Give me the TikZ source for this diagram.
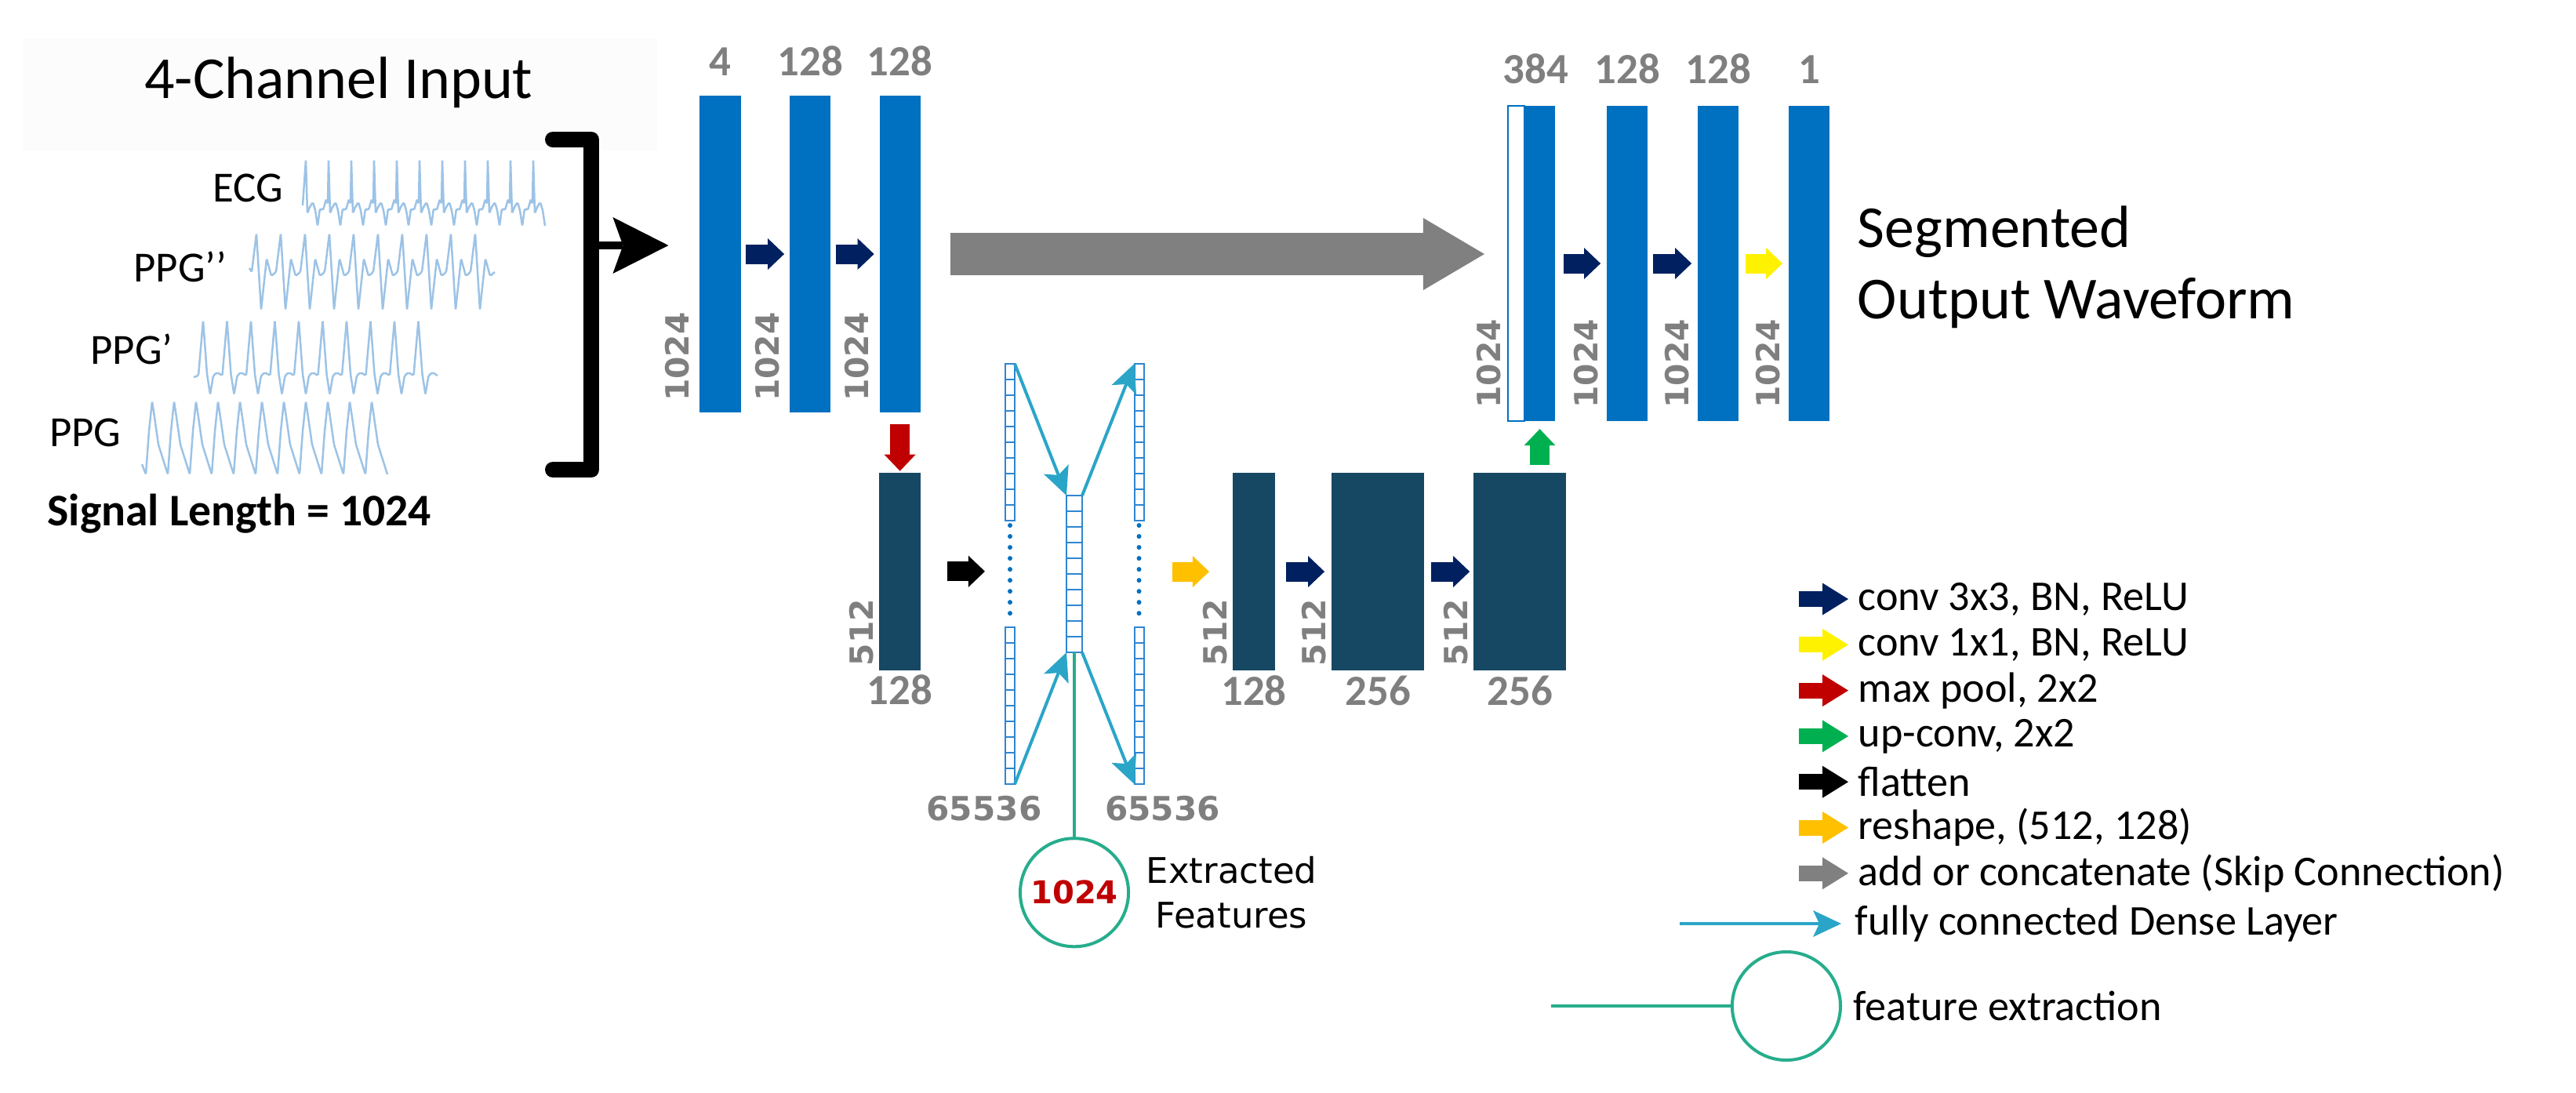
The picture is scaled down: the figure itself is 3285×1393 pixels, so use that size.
\documentclass[tikz,border=0pt]{standalone}
\usepackage{fontspec}
\setmainfont{Carlito}
\newfontfamily\vfont{DejaVu Sans}
\usepackage{tikz}
\usetikzlibrary{arrows.meta, positioning, calc}

\definecolor{encblue}{HTML}{0070C0}
\definecolor{botblue}{HTML}{164863}
\definecolor{convnavy}{HTML}{002060}
\definecolor{poolred}{HTML}{C00000}
\definecolor{upgreen}{HTML}{00B050}
\definecolor{reshorange}{HTML}{FFC000}
\definecolor{skipgray}{HTML}{808080}
\definecolor{lblgray}{HTML}{7F7F7F}
\definecolor{densecyan}{HTML}{2AA5C8}
\definecolor{featgreen}{HTML}{26AD8C}
\definecolor{sigblue}{HTML}{9DC3E6}
\definecolor{cellblue}{HTML}{2E86D1}

\begin{document}
\begin{tikzpicture}[x=0.01cm, y=-0.01cm,
		enc/.style={rectangle, fill=encblue, inner sep=0pt, outer sep=0pt,
				minimum width=0.52cm, minimum height=4.03cm},
		dec/.style={enc, minimum height=4.02cm},
		bot/.style={rectangle, fill=botblue, inner sep=0pt, outer sep=0pt,
				minimum width=0.53cm, minimum height=2.52cm},
		col/.style={rectangle, draw=cellblue, line width=0.02cm, fill=white,
				inner sep=0pt, outer sep=0pt, minimum width=0.12cm, minimum height=2cm,
				path picture={\foreach \k in {1,...,9}{
							\draw[cellblue, line width=0.015cm]
							($(path picture bounding box.north west)!\k/10!(path picture bounding box.south west)$) --
							($(path picture bounding box.north east)!\k/10!(path picture bounding box.south east)$);}}},
		featc/.style={circle, draw=featgreen, line width=0.04cm, fill=white,
				inner sep=0pt, outer sep=0pt, minimum size=1.38cm},
		toplbl/.style={anchor=base, inner sep=0pt, text=lblgray,
				font=\bfseries\fontsize{15.6}{18}\selectfont},
		sidelbl/.style={rotate=90, anchor=base west, inner sep=0pt, text=lblgray,
				font=\vfont\bfseries\fontsize{11.6}{13}\selectfont},
		siglbl/.style={anchor=base east, inner sep=0pt, font=\fontsize{15.6}{18}\selectfont},
		legtext/.style={anchor=west, inner sep=0pt, font=\fontsize{15.4}{18}\selectfont},
		sig/.style={draw=sigblue, line width=0.025cm, rounded corners=0.5pt},
		blk/.style={line width=0.25cm, -{Triangle[length=0.21cm, width=0.40cm, line width=0pt]}},
		legarrow/.style={line width=0.20cm, -{Triangle[length=0.33cm, width=0.41cm, line width=0pt]}},
		skip/.style={draw=skipgray, line width=0.53cm,
				-{Triangle[length=0.78cm, width=0.92cm, line width=0pt]}},
		inarrow/.style={line width=0.10cm,
				-{Stealth[length=0.71cm, width=0.72cm, inset=0.13cm, line width=0pt]}},
		dense/.style={draw=densecyan, line width=0.04cm,
				-{Stealth[length=0.36cm, width=0.34cm, inset=0.08cm, line width=0pt]}},
		featline/.style={draw=featgreen, line width=0.04cm},
		dots/.style={draw=encblue, line width=0.06cm, line cap=round,
				dash pattern=on 0pt off 0.14cm, shorten <=0.06cm, shorten >=0.06cm},
		bracket/.style={line width=0.20cm, line cap=round, line join=round}]

	\useasboundingbox (0,0) rectangle (3285,1393);

	% Input signals
	\fill[black!1.2] (29,49) rectangle (838,192);
	\node[anchor=base, inner sep=0pt, font=\fontsize{21.6}{26}\selectfont] (title) at (432,125) {4-Channel Input};
	\node[siglbl] (lecg) at (362,257) {ECG};
	\node[siglbl] (lppgb) at (290,359) {PPG’’};
	\node[siglbl] (lppga) at (221,464) {PPG’};
	\node[siglbl] (lppg) at (155,569) {PPG};
	\node[anchor=base west, inner sep=0pt, font=\bfseries\fontsize{16.4}{19}\selectfont] (siglen) at (60,670) {Signal Length = 1024};

	\draw[sig] (386,262) -- (390,204)
		\foreach \k in {1,...,10}{ -- ++(2,68) -- ++(3,-8) -- ++(4,-6) -- ++(3,10) -- ++(3,20)
				-- ++(3,-22) -- ++(4,2) -- ++(4,-14) -- ++(2,6) -- ++(1,-56) }
		-- ++(2,68) -- ++(3,-8) -- ++(4,-6) -- ++(3,10) -- ++(3,20);
	\draw[sig] (318,342) -- (321,347)
		\foreach \k in {1,...,10}{ -- ++(6,-49) -- ++(6,97) -- ++(7,-65) -- ++(6,22) -- ++(6,-5) };
	\draw[sig] (247,481) -- (253,479)
		\foreach \k in {1,...,10}{ -- ++(6,-70) -- ++(5,68) -- ++(4,26) -- ++(4,-24) -- ++(5,-4) -- ++(6.5,4) };
	\draw[sig] (181,592) -- (186,605)
		\foreach \k in {1,...,11}{ -- ++(4,-55) -- ++(4,-38) -- ++(3,20) -- ++(5,35) -- ++(12,38) };

	% Bracket and input arrow
	\coordinate (brk) at (754,313);
	\draw[bracket] (705,178) -- (754,178) -- (754,599) -- (705,599);

	% Encoder
	\node[enc] (e1) at (918.5,324) {};
	\node[enc, right=0.625cm of e1] (e2) {};
	\node[enc, right=0.625cm of e2] (e3) {};
	\node[bot, below=0.77cm of e3] (b1) {};

	% Dense bottleneck
	\node[col] (lt) at (1288,564) {};
	\node[col] (lb) at (1288,900) {};
	\node[col, minimum width=0.20cm] (mid) at (1370,732) {};
	\node[col] (rt) at (1452.5,564) {};
	\node[col] (rb) at (1452.5,900) {};
	\coordinate (lc) at ($(lt.south)!0.5!(lb.north)$);
	\coordinate (rc) at ($(rt.south)!0.5!(rb.north)$);
	\node[featc, below=2.37cm of mid, text=poolred, font=\vfont\bfseries\fontsize{11.4}{13}\selectfont] (fe) {1024};
	\node[right=0.22cm of fe, inner sep=0pt, align=center, font=\vfont\fontsize{12.8}{16.2}\selectfont] (fetext) {Extracted\\Features};

	% Bottom decoder blocks
	\node[bot, minimum width=0.54cm] (r1) at (1599,729) {};
	\node[bot, minimum width=1.18cm, right=0.72cm of r1] (r2) {};
	\node[bot, minimum width=1.18cm, right=0.63cm of r2] (r3) {};

	% Decoder
	\node[dec, minimum width=0.21cm, fill=white, draw=encblue, line width=0.02cm] (d1w) at (1933.5,336) {};
	\node[dec, minimum width=0.39cm, right=0pt of d1w] (d1b) {};
	\node[dec, right=0.66cm of d1b] (d2) {};
	\node[dec, right=0.64cm of d2] (d3) {};
	\node[dec, right=0.64cm of d3] (d4) {};
	\node[right=0.35cm of d4, yshift=-0.05cm, inner sep=0pt, align=left, font=\fontsize{21.6}{25.9}\selectfont] (out) {Segmented\\Output Waveform};

	% Size labels
	\foreach \n/\l in {e1/4, e2/128, e3/128}
		{
			\node[toplbl] at ([yshift=0.26cm]\n.north) {\l};
			\node[sidelbl] at ([xshift=-0.14cm, yshift=0.13cm]\n.south west) {1024};
		}
	\node[toplbl] at ([xshift=-0.05cm, yshift=0.28cm]d1b.north) {384};
	\node[sidelbl] at ([xshift=-0.10cm, yshift=0.16cm]d1w.south west) {1024};
	\foreach \n/\l in {d2/128, d3/128, d4/1}
		{
			\node[toplbl] at ([yshift=0.28cm]\n.north) {\l};
			\node[sidelbl] at ([xshift=-0.12cm, yshift=0.16cm]\n.south west) {1024};
		}
	\foreach \n/\l in {b1/128, r1/128, r2/256, r3/256}
		{
			\node[toplbl] at ([yshift=-0.44cm]\n.south) {\l};
			\node[sidelbl] at ([xshift=-0.08cm, yshift=0.05cm]\n.south west) {512};
		}
	\node[toplbl, font=\vfont\bfseries\fontsize{12}{13}\selectfont] at ([xshift=-0.33cm, yshift=-0.465cm]lb.south) {65536};
	\node[toplbl, font=\vfont\bfseries\fontsize{12}{13}\selectfont] at ([xshift=0.30cm, yshift=-0.465cm]rb.south) {65536};

	% Connections
	\draw[inarrow, shorten >=0.40cm] (brk) -- (brk -| e1.west);
	\draw[blk, draw=convnavy, shorten <=0.065cm, shorten >=0.07cm] (e1) -- (e2);
	\draw[blk, draw=convnavy, shorten <=0.065cm, shorten >=0.07cm] (e2) -- (e3);
	\draw[skip, shorten <=0.385cm, shorten >=0.30cm] (e3.east) -- (e3.east -| d1w.west);
	\draw[blk, draw=poolred, shorten <=0.15cm, shorten >=0.02cm] (e3) -- (b1);
	\draw[blk, draw=black, shorten <=0.34cm, shorten >=0.32cm] (b1.east) -- (b1.east -| lc);
	\draw[dense] (lt.north east) -- (mid.north west);
	\draw[dense] (mid.north east) -- (rt.north west);
	\draw[dense] (lb.south east) -- (mid.south west);
	\draw[dense] (mid.south east) -- (rb.south west);
	\draw[dots] (lt.south) -- (lb.north);
	\draw[dots] (rt.south) -- (rb.north);
	\draw[featline] (mid.south) -- (fe.north);
	\draw[blk, draw=reshorange, shorten <=0.425cm, shorten >=0.30cm] (r1.west -| rc) -- (r1.west);
	\draw[blk, draw=convnavy, shorten <=0.14cm, shorten >=0.09cm] (r1) -- (r2);
	\draw[blk, draw=convnavy, shorten <=0.09cm, shorten >=0.05cm] (r2) -- (r3);
	\draw[blk, draw=upgreen, shorten <=0.10cm, shorten >=0.10cm] (r3.north -| d1b.south) -- (d1b.south);
	\draw[blk, draw=convnavy, shorten <=0.11cm, shorten >=0.08cm] (d1b) -- (d2);
	\draw[blk, draw=convnavy, shorten <=0.07cm, shorten >=0.08cm] (d2) -- (d3);
	\draw[blk, draw=yellow, shorten <=0.09cm, shorten >=0.08cm] (d3) -- (d4);

	% Legend
	\foreach [count=\i] \c/\t in {convnavy/{conv 3x3, BN, ReLU}, yellow/{conv 1x1, BN, ReLU},
			poolred/{max pool, 2x2}, upgreen/{up-conv, 2x2}, black/flatten,
			reshorange/{reshape, (512, 128)}, skipgray/{add or concatenate (Skip Connection)}}
		{
			\node[legtext] (lg\i) at (2369, {764+58.3*(\i-1)}) {\t};
			\draw[legarrow, draw=\c] ([xshift=-0.75cm]lg\i.west) -- ([xshift=-0.12cm]lg\i.west);
		}
	\node[legtext] (lgd) at (2365,1178) {fully connected Dense Layer};
	\draw[dense] ([xshift=-2.23cm]lgd.west) -- ([xshift=-0.17cm]lgd.west);
	\node[legtext] (lgf) at (2363,1283) {feature extraction};
	\node[featc, left=0.16cm of lgf] (lgc) {};
	\draw[featline] ([xshift=-2.31cm]lgc.west) -- (lgc.west);

\end{tikzpicture}
\end{document}
